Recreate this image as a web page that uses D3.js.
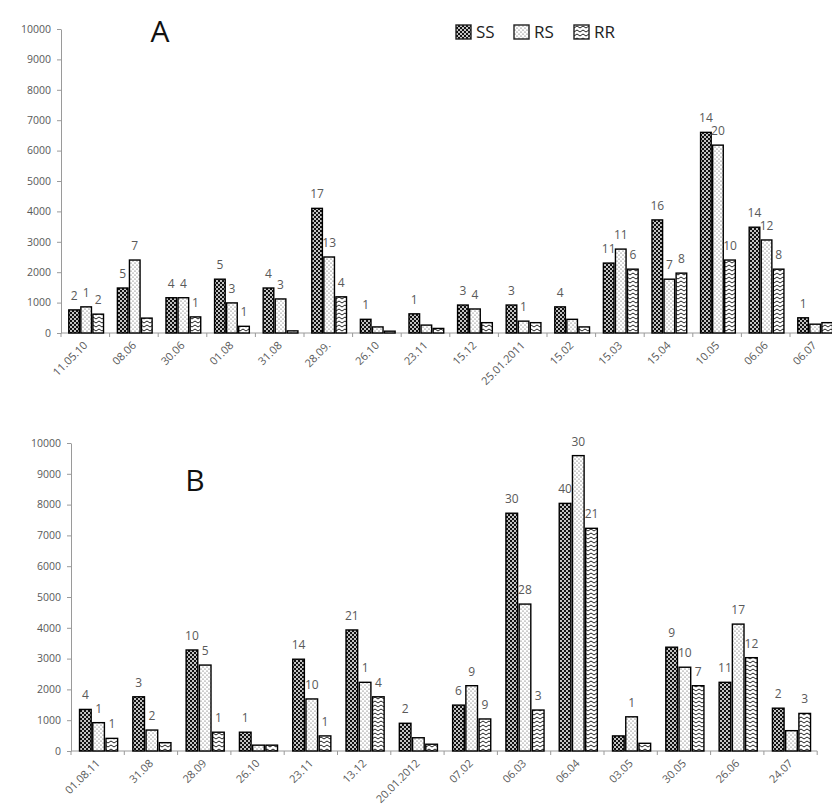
<!DOCTYPE html>
<html>
<head>
<meta charset="utf-8">
<script src="https://cdn.jsdelivr.net/npm/d3@7"></script>
<style>
  body { margin: 0; background: #fff; }
  text { font-family: "Open Sans", sans-serif; }
</style>
</head>
<body>
<svg id="chart" width="832" height="812"></svg>
<script>
// Series names.
const series = ["SS", "RS", "RR"];

// Panel A data.
const datesA = ["11.05.10", "08.06", "30.06", "01.08", "31.08", "28.09.", "26.10", "23.11",
    "15.12", "25.01.2011", "15.02", "15.03", "15.04", "10.05", "06.06", "06.07"];
const ssA = [760, 1480, 1160, 1770, 1480, 4100, 450, 630, 920, 920, 860, 2300, 3720, 6600, 3480, 500];
const rsA = [860, 2400, 1160, 990, 1120, 2500, 200, 260, 790, 390, 450, 2760, 1770, 6180, 3060, 290];
const rrA = [620, 490, 530, 220, 70, 1190, 60, 150, 340, 340, 200, 2100, 1970, 2400, 2100, 340];
const ssLabA = [2, 5, 4, 5, 4, 17, 1, 1, 3, 3, 4, 11, 16, 14, 14, 1];
const rsLabA = [1, 7, 4, 3, 3, 13, null, null, 4, 1, null, 11, 7, 20, 12, null];
const rrLabA = [2, null, 1, 1, null, 4, null, null, null, null, null, 6, 8, 10, 8, null];

// Panel B data.
const datesB = ["01.08.11", "31.08", "28.09", "26.10", "23.11", "13.12", "20.01.2012",
    "07.02", "06.03", "06.04", "03.05", "30.05", "26.06", "24.07"];
const ssB = [1350, 1760, 3280, 610, 2980, 3930, 900, 1490, 7720, 8040, 490, 3370, 2230, 1390];
const rsB = [920, 680, 2790, 190, 1690, 2230, 430, 2120, 4770, 9590, 1110, 2720, 4120, 660];
const rrB = [410, 270, 610, 190, 490, 1760, 220, 1040, 1330, 7230, 250, 2120, 3030, 1220];
const ssLabB = [4, 3, 10, 1, 14, 21, 2, 6, 30, 40, null, 9, 11, 2];
const rsLabB = [1, 2, 5, null, 10, 1, null, 9, 28, 30, 1, 10, 17, null];
const rrLabB = [1, null, 1, null, 1, 4, null, 9, 3, 21, null, 7, 12, 3];

const yTicks = d3.range(0, 10001, 1000);

const svg = d3.select("#chart");
const textColor = "#595959";
const axisColor = "#9a9a9a";

// Fill patterns for the three series.
const defs = svg.append("defs");

const pSS = defs.append("pattern").attr("id", "pSS")
    .attr("patternUnits", "userSpaceOnUse").attr("width", 4).attr("height", 4);
pSS.append("rect").attr("width", 4).attr("height", 4).attr("fill", "#111");
pSS.append("circle").attr("cx", 1).attr("cy", 1).attr("r", 1).attr("fill", "#fff");
pSS.append("circle").attr("cx", 3).attr("cy", 3).attr("r", 1).attr("fill", "#fff");

const pRS = defs.append("pattern").attr("id", "pRS")
    .attr("patternUnits", "userSpaceOnUse").attr("width", 4).attr("height", 4);
pRS.append("rect").attr("width", 4).attr("height", 4).attr("fill", "#fff");
pRS.append("circle").attr("cx", 1).attr("cy", 1).attr("r", 0.6).attr("fill", "#444");
pRS.append("circle").attr("cx", 3).attr("cy", 3).attr("r", 0.6).attr("fill", "#444");

const pRR = defs.append("pattern").attr("id", "pRR")
    .attr("patternUnits", "userSpaceOnUse").attr("width", 6).attr("height", 4);
pRR.append("rect").attr("width", 6).attr("height", 4).attr("fill", "#fff");
pRR.append("path").attr("d", "M0,3 L3,1 L6,3").attr("fill", "none")
    .attr("stroke", "#222").attr("stroke-width", 1);

const fills = { SS: "url(#pSS)", RS: "url(#pRS)", RR: "url(#pRR)" };

function drawPanel(cfg) {

    const n = cfg.dates.length;
    const x = d3.scaleBand().domain(cfg.dates).range([cfg.x0, cfg.x0 + n * cfg.step]);
    const y = d3.scaleLinear().domain([0, 10000]).range([cfg.y0, cfg.y1]);
    const bw = x.bandwidth();
    const x1 = d3.scaleBand().domain(series).range([0.16 * bw, 0.875 * bw]).paddingInner(0.12);

    const g = svg.append("g");

    // Y axis.
    const yAxis = g.append("g")
        .attr("transform", `translate(${cfg.x0},0)`)
        .call(d3.axisLeft(y).tickValues(yTicks).tickFormat(d3.format("d"))
            .tickSize(4).tickSizeOuter(0).tickPadding(6));
    yAxis.select(".domain").attr("stroke", axisColor);
    yAxis.selectAll(".tick line").attr("stroke", axisColor);
    yAxis.selectAll(".tick text")
        .attr("fill", textColor)
        .style("font-size", "10.5px")
        .style("font-family", "Open Sans");

    // X axis line and tick marks at band edges.
    g.append("line")
        .attr("x1", cfg.x0).attr("x2", cfg.x0 + n * cfg.step)
        .attr("y1", y(0)).attr("y2", y(0))
        .attr("stroke", axisColor);
    g.selectAll(".xtick")
        .data(d3.range(n + 1))
        .join("line")
        .attr("x1", (i) => x.range()[0] + i * x.step())
        .attr("x2", (i) => x.range()[0] + i * x.step())
        .attr("y1", y(0)).attr("y2", y(0) + 4)
        .attr("stroke", axisColor);

    // Rotated date labels.
    g.selectAll(".xlab")
        .data(cfg.dates)
        .join("text")
        .attr("transform", (d) => `translate(${x(d) + bw / 2 + 3},${y(0) + 13}) rotate(-45)`)
        .attr("text-anchor", "end")
        .attr("fill", textColor)
        .style("font-size", "11px")
        .text((d) => d);

    // Bars.
    const rows = [];
    cfg.dates.forEach((d, i) => {

        series.forEach((s) => {

            rows.push({ date: d, s: s, v: cfg.values[s][i], lab: cfg.labels[s][i] });
        });
    });

    g.selectAll(".bar")
        .data(rows)
        .join("rect")
        .attr("x", (d) => x(d.date) + x1(d.s))
        .attr("y", (d) => y(d.v))
        .attr("width", x1.bandwidth())
        .attr("height", (d) => y(0) - y(d.v))
        .attr("fill", (d) => fills[d.s])
        .attr("stroke", "#000")
        .attr("stroke-width", 1.4);

    g.selectAll(".vlab")
        .data(rows.filter((d) => d.lab !== null))
        .join("text")
        .attr("x", (d) => x(d.date) + x1(d.s) + x1.bandwidth() / 2)
        .attr("y", (d) => y(d.v) - 10)
        .attr("text-anchor", "middle")
        .attr("fill", textColor)
        .style("font-size", "12px")
        .text((d) => d.lab);

    // Panel letter.
    g.append("text")
        .attr("x", cfg.titleX).attr("y", cfg.titleY)
        .attr("text-anchor", "middle")
        .attr("fill", "#111")
        .style("font-size", "30px")
        .text(cfg.title);
}

drawPanel({
    dates: datesA,
    values: { SS: ssA, RS: rsA, RR: rrA },
    labels: { SS: ssLabA, RS: rsLabA, RR: rrLabA },
    x0: 61, step: 48.6, y0: 333, y1: 29,
    title: "A", titleX: 160, titleY: 42
});

drawPanel({
    dates: datesB,
    values: { SS: ssB, RS: rsB, RR: rrB },
    labels: { SS: ssLabB, RS: rsLabB, RR: rrLabB },
    x0: 71, step: 53.3, y0: 751, y1: 443,
    title: "B", titleX: 195, titleY: 491
});

// Legend.
const legendX = [456, 514, 574];
const legend = svg.append("g")
    .selectAll("g")
    .data(series)
    .join("g")
    .attr("transform", (d, i) => `translate(${legendX[i]},25)`);
legend.append("rect")
    .attr("width", 15).attr("height", 14)
    .attr("fill", (d) => fills[d])
    .attr("stroke", "#222").attr("stroke-width", 1.4);
legend.append("text")
    .attr("x", 20).attr("y", 13)
    .attr("fill", "#222")
    .style("font-size", "17px")
    .text((d) => d);
</script>
</body>
</html>
